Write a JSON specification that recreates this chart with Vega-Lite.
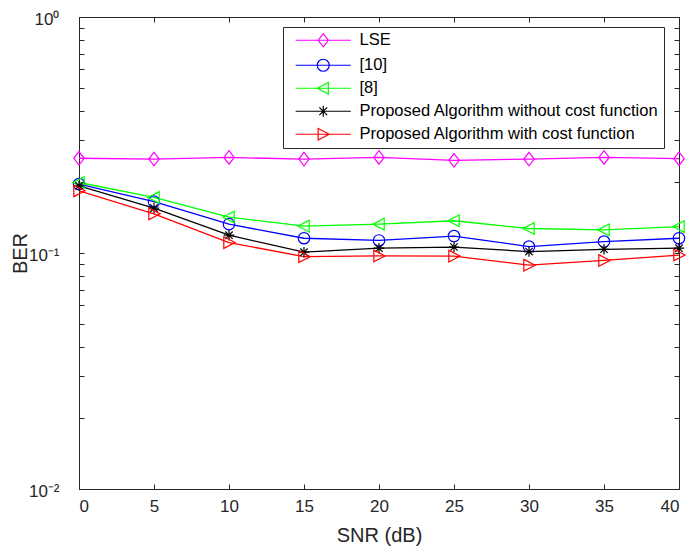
{
  "$schema": "https://vega.github.io/schema/vega-lite/v6.json",
  "width": 600,
  "height": 472,
  "autosize": "none",
  "padding": {"left": 79, "top": 17, "right": 10, "bottom": 61},
  "background": "white",
  "config": {
    "view": {"stroke": "#262626", "strokeWidth": 1},
    "font": "Liberation Sans",
    "axis": {"labelFont": "Liberation Sans", "titleFont": "Liberation Sans", "labelColor": "#262626", "titleColor": "#262626", "tickColor": "#262626", "domain": false, "grid": false, "titleFontWeight": "normal"},
    "legend": {
      "title": null, "orient": "none", "legendX": 204, "legendY": 10, "direction": "vertical",
      "padding": 5, "rowPadding": 6, "symbolOffset": 27, "labelOffset": 28,
      "strokeColor": "#262626", "fillColor": "white", "cornerRadius": 0,
      "labelFont": "Liberation Sans", "labelFontSize": 16.5, "labelColor": "#000000", "labelLimit": 420,
      "symbolSize": 144, "symbolStrokeWidth": 1.2, "symbolFillColor": "transparent", "symbolOpacity": 1
    }
  },
  "data": {
    "values": [
      {"snr": 0, "ber": 0.252, "method": "LSE"},
      {"snr": 5, "ber": 0.250, "method": "LSE"},
      {"snr": 10, "ber": 0.254, "method": "LSE"},
      {"snr": 15, "ber": 0.250, "method": "LSE"},
      {"snr": 20, "ber": 0.254, "method": "LSE"},
      {"snr": 25, "ber": 0.247, "method": "LSE"},
      {"snr": 30, "ber": 0.250, "method": "LSE"},
      {"snr": 35, "ber": 0.254, "method": "LSE"},
      {"snr": 40, "ber": 0.251, "method": "LSE"},
      {"snr": 0, "ber": 0.196, "method": "[10]"},
      {"snr": 5, "ber": 0.165, "method": "[10]"},
      {"snr": 10, "ber": 0.1325, "method": "[10]"},
      {"snr": 15, "ber": 0.1155, "method": "[10]"},
      {"snr": 20, "ber": 0.113, "method": "[10]"},
      {"snr": 25, "ber": 0.118, "method": "[10]"},
      {"snr": 30, "ber": 0.1065, "method": "[10]"},
      {"snr": 35, "ber": 0.1118, "method": "[10]"},
      {"snr": 40, "ber": 0.1155, "method": "[10]"},
      {"snr": 0, "ber": 0.199, "method": "[8]"},
      {"snr": 5, "ber": 0.172, "method": "[8]"},
      {"snr": 10, "ber": 0.142, "method": "[8]"},
      {"snr": 15, "ber": 0.130, "method": "[8]"},
      {"snr": 20, "ber": 0.1325, "method": "[8]"},
      {"snr": 25, "ber": 0.137, "method": "[8]"},
      {"snr": 30, "ber": 0.127, "method": "[8]"},
      {"snr": 35, "ber": 0.1253, "method": "[8]"},
      {"snr": 40, "ber": 0.1294, "method": "[8]"},
      {"snr": 0, "ber": 0.1925, "method": "Proposed Algorithm without cost function"},
      {"snr": 5, "ber": 0.155, "method": "Proposed Algorithm without cost function"},
      {"snr": 10, "ber": 0.119, "method": "Proposed Algorithm without cost function"},
      {"snr": 15, "ber": 0.1008, "method": "Proposed Algorithm without cost function"},
      {"snr": 20, "ber": 0.1048, "method": "Proposed Algorithm without cost function"},
      {"snr": 25, "ber": 0.106, "method": "Proposed Algorithm without cost function"},
      {"snr": 30, "ber": 0.1014, "method": "Proposed Algorithm without cost function"},
      {"snr": 35, "ber": 0.1037, "method": "Proposed Algorithm without cost function"},
      {"snr": 40, "ber": 0.1048, "method": "Proposed Algorithm without cost function"},
      {"snr": 0, "ber": 0.1834, "method": "Proposed Algorithm with cost function"},
      {"snr": 5, "ber": 0.1465, "method": "Proposed Algorithm with cost function"},
      {"snr": 10, "ber": 0.1107, "method": "Proposed Algorithm with cost function"},
      {"snr": 15, "ber": 0.0965, "method": "Proposed Algorithm with cost function"},
      {"snr": 20, "ber": 0.0972, "method": "Proposed Algorithm with cost function"},
      {"snr": 25, "ber": 0.097, "method": "Proposed Algorithm with cost function"},
      {"snr": 30, "ber": 0.0888, "method": "Proposed Algorithm with cost function"},
      {"snr": 35, "ber": 0.093, "method": "Proposed Algorithm with cost function"},
      {"snr": 40, "ber": 0.098, "method": "Proposed Algorithm with cost function"}
    ]
  },
  "resolve": {"axis": {"x": "independent", "y": "independent"}},
  "encoding": {
    "x": {"field": "snr", "type": "quantitative", "scale": {"domain": [0, 40], "nice": false, "zero": false}, "axis": null},
    "y": {"field": "ber", "type": "quantitative", "scale": {"type": "log", "domain": [0.01, 1], "nice": false}, "axis": null},
    "color": {
      "field": "method", "type": "nominal",
      "scale": {"domain": ["LSE", "[10]", "[8]", "Proposed Algorithm without cost function", "Proposed Algorithm with cost function"], "range": ["#FF00FF", "#0000FF", "#00FF00", "#000000", "#FF0000"]}
    }
  },
  "layer": [
    {
      "mark": {"type": "line", "strokeWidth": 1.3, "clip": true},
      "encoding": {
        "x": {
          "field": "snr", "type": "quantitative",
          "axis": {"orient": "bottom", "values": [0,5,10,15,20,25,30,35,40], "tickSize": -5, "labelPadding": 14, "labelFontSize": 17, "title": "SNR (dB)", "titleFontSize": 20, "titleY": 46, "titleBaseline": "middle"}
        },
        "y": {
          "field": "ber", "type": "quantitative",
          "axis": {"orient": "left", "values": [0.01,0.02,0.03,0.04,0.05,0.06,0.07,0.08,0.09,0.1,0.2,0.3,0.4,0.5,0.6,0.7,0.8,0.9,1], "labelExpr": "datum.value === 1 ? '10⁰' : datum.value === 0.1 ? '10⁻¹' : datum.value === 0.01 ? '10⁻²' : ''", "tickSize": -5, "labelPadding": 25, "labelFontSize": 17, "labelOffset": 2, "title": "BER", "titleFontSize": 20, "titleX": -59, "titleY": 236, "titleBaseline": "middle", "titleAlign": "center"}
        },
        "order": {"field": "snr", "type": "quantitative"}
      }
    },
    {
      "transform": [{"filter": "datum.method === 'LSE'"}],
      "mark": {"type": "point", "filled": false, "strokeWidth": 1.2, "size": 150, "opacity": 1, "shape": "M0,-1.1L0.85,0L0,1.1L-0.85,0Z"},
      "encoding": {
        "x": {
          "field": "snr", "type": "quantitative",
          "axis": {"orient": "top", "values": [0,5,10,15,20,25,30,35,40], "tickSize": -5, "labels": false, "title": null}
        },
        "y": {
          "field": "ber", "type": "quantitative",
          "axis": {"orient": "right", "values": [0.01,0.02,0.03,0.04,0.05,0.06,0.07,0.08,0.09,0.1,0.2,0.3,0.4,0.5,0.6,0.7,0.8,0.9,1], "tickSize": -5, "labels": false, "title": null}
        }
      }
    },
    {
      "transform": [{"filter": "datum.method === '[10]'"}],
      "mark": {"type": "point", "filled": false, "strokeWidth": 1.2, "size": 130, "opacity": 1, "shape": "circle"}
    },
    {
      "transform": [{"filter": "datum.method === '[8]'"}],
      "mark": {"type": "point", "filled": false, "strokeWidth": 1.2, "size": 150, "opacity": 1, "shape": "M-1,0L0.85,-0.95L0.85,0.95Z"}
    },
    {
      "transform": [{"filter": "datum.method === 'Proposed Algorithm without cost function'"}],
      "mark": {"type": "point", "filled": false, "strokeWidth": 1.2, "size": 110, "opacity": 1, "shape": "M-1,0H1M0,-1V1M-0.7,-0.7L0.7,0.7M-0.7,0.7L0.7,-0.7"}
    },
    {
      "transform": [{"filter": "datum.method === 'Proposed Algorithm with cost function'"}],
      "mark": {"type": "point", "filled": false, "strokeWidth": 1.2, "size": 150, "opacity": 1, "shape": "M1,0L-0.85,-0.95L-0.85,0.95Z"}
    },
    {
      "mark": {"type": "point", "filled": false, "strokeWidth": 1.2, "size": 0},
      "encoding": {
        "shape": {
          "field": "method", "type": "nominal",
          "scale": {"domain": ["LSE", "[10]", "[8]", "Proposed Algorithm without cost function", "Proposed Algorithm with cost function"], "range": ["M-4.6,0H4.6M0,-1.1L0.85,0L0,1.1L-0.85,0Z", "M-4.6,0H4.6M1,0A1,1,0,1,1,-1,0A1,1,0,1,1,1,0Z", "M-4.6,0H4.6M-1,0L0.85,-0.95L0.85,0.95Z", "M-4.6,0H4.6M-0.9,0H0.9M0,-0.9V0.9M-0.65,-0.65L0.65,0.65M-0.65,0.65L0.65,-0.65", "M-4.6,0H4.6M1,0L-0.85,-0.95L-0.85,0.95Z"]}
        }
      }
    }
  ]
}
